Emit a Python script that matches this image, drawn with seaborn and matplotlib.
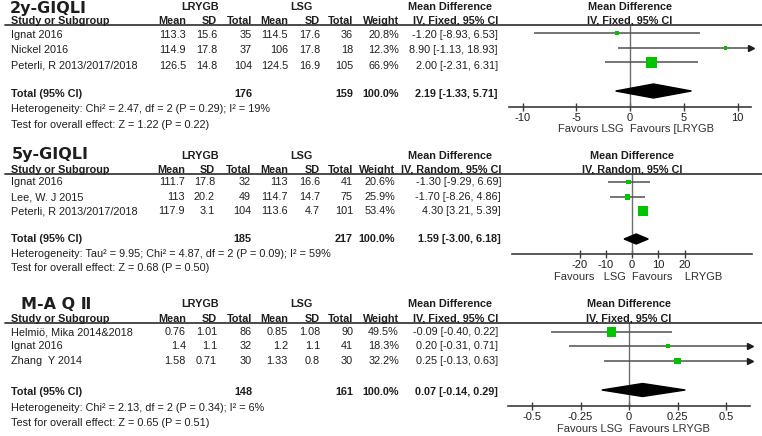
import numpy as np
import matplotlib
matplotlib.use("Agg")
import matplotlib.pyplot as plt
from matplotlib.lines import Line2D
import seaborn as sns

# ---- data -------------------------------------------------------------
titles = ["2y-GIQLI", "5y-GIQLI", "M-A Q \u2161"]
methods = ["IV, Fixed, 95% CI", "IV, Random, 95% CI", "IV, Fixed, 95% CI"]

studies_2y = ["Ignat 2016", "Nickel 2016", "Peterli, R 2013/2017/2018"]
lrygb_mean_2y = [113.3, 114.9, 126.5]
lrygb_sd_2y = [15.6, 17.8, 14.8]
lrygb_n_2y = [35, 37, 104]
lsg_mean_2y = [114.5, 106, 124.5]
lsg_sd_2y = [17.6, 17.8, 16.9]
lsg_n_2y = [36, 18, 105]
weight_2y = [20.8, 12.3, 66.9]
md_2y = [-1.20, 8.90, 2.00]
lo_2y = [-8.93, -1.13, -2.31]
hi_2y = [6.53, 18.93, 6.31]
total_2y = [176, 159, 2.19, -1.33, 5.71]
het_2y = "Heterogeneity: Chi\u00b2 = 2.47, df = 2 (P = 0.29); I\u00b2 = 19%"
test_2y = "Test for overall effect: Z = 1.22 (P = 0.22)"

studies_5y = ["Ignat 2016", "Lee, W. J 2015", "Peterli, R 2013/2017/2018"]
lrygb_mean_5y = [111.7, 113, 117.9]
lrygb_sd_5y = [17.8, 20.2, 3.1]
lrygb_n_5y = [32, 49, 104]
lsg_mean_5y = [113, 114.7, 113.6]
lsg_sd_5y = [16.6, 14.7, 4.7]
lsg_n_5y = [41, 75, 101]
weight_5y = [20.6, 25.9, 53.4]
md_5y = [-1.30, -1.70, 4.30]
lo_5y = [-9.29, -8.26, 3.21]
hi_5y = [6.69, 4.86, 5.39]
total_5y = [185, 217, 1.59, -3.00, 6.18]
het_5y = "Heterogeneity: Tau\u00b2 = 9.95; Chi\u00b2 = 4.87, df = 2 (P = 0.09); I\u00b2 = 59%"
test_5y = "Test for overall effect: Z = 0.68 (P = 0.50)"

studies_maq = ["Helmi\u00f6, Mika 2014&2018", "Ignat 2016", "Zhang  Y 2014"]
lrygb_mean_maq = [0.76, 1.4, 1.58]
lrygb_sd_maq = [1.01, 1.1, 0.71]
lrygb_n_maq = [86, 32, 30]
lsg_mean_maq = [0.85, 1.2, 1.33]
lsg_sd_maq = [1.08, 1.1, 0.8]
lsg_n_maq = [90, 41, 30]
weight_maq = [49.5, 18.3, 32.2]
md_maq = [-0.09, 0.20, 0.25]
lo_maq = [-0.40, -0.31, -0.13]
hi_maq = [0.22, 0.71, 0.63]
total_maq = [148, 161, 0.07, -0.14, 0.29]
het_maq = "Heterogeneity: Chi\u00b2 = 2.13, df = 2 (P = 0.34); I\u00b2 = 6%"
test_maq = "Test for overall effect: Z = 0.65 (P = 0.51)"

ticks = [[-10, -5, 0, 5, 10], [-20, -10, 0, 10, 20], [-0.5, -0.25, 0, 0.25, 0.5]]
tick_labels = [["-10", "-5", "0", "5", "10"], ["-20", "-10", "0", "10", "20"],
               ["-0.5", "-0.25", "0", "0.25", "0.5"]]
favours_left = ["Favours LSG", "Favours   LSG", "Favours LSG"]
favours_right = ["Favours [LRYGB", "Favours    LRYGB", "Favours LRYGB"]

panels = [
    (studies_2y, lrygb_mean_2y, lrygb_sd_2y, lrygb_n_2y, lsg_mean_2y, lsg_sd_2y, lsg_n_2y,
     weight_2y, md_2y, lo_2y, hi_2y, total_2y, het_2y, test_2y),
    (studies_5y, lrygb_mean_5y, lrygb_sd_5y, lrygb_n_5y, lsg_mean_5y, lsg_sd_5y, lsg_n_5y,
     weight_5y, md_5y, lo_5y, hi_5y, total_5y, het_5y, test_5y),
    (studies_maq, lrygb_mean_maq, lrygb_sd_maq, lrygb_n_maq, lsg_mean_maq, lsg_sd_maq, lsg_n_maq,
     weight_maq, md_maq, lo_maq, hi_maq, total_maq, het_maq, test_maq),
]

# ---- layout (pixels) --------------------------------------------------
W, H = 762, 436
layout = [
    dict(title_x=10, title_y=13.5, head1=6.5, head2=20.5, line=25, rows=[34.5, 50, 66], total=94,
         het=109, test=125, frows=[33, 48, 62.5], diamond=91, axis=107, fav=129,
         zero=630, scale=10.75, lim=11.3, dh=7,
         cols=[186, 217, 252, 288, 320, 353, 399, 498]),
    dict(title_x=12, title_y=159, head1=156, head2=169.5, line=174, rows=[182, 197, 211], total=239,
         het=254, test=268, frows=[182, 197, 211], diamond=239, axis=254, fav=277,
         zero=632, scale=2.625, lim=45.7, dh=5,
         cols=[185, 215, 251, 288, 320, 353, 395, 501]),
    dict(title_x=21, title_y=309, head1=304, head2=318.5, line=323, rows=[332, 346, 361], total=392,
         het=408, test=423, frows=[332, 346, 361], diamond=390, axis=406, fav=429,
         zero=629, scale=194, lim=0.625, dh=6.5,
         cols=[186, 217, 252, 288, 320, 353, 399, 498]),
]

sns.set_theme(style="white")
plt.rcParams["font.family"] = ["Liberation Sans", "DejaVu Sans"]

TXT = "#1e1e1e"
GREEN = "#00c400"
LINE = "#505050"
FS = 7.8


def fx(x):
    return x / W


def fy(y):
    return 1 - y / H


def g(v):
    return "%g" % v


fig = plt.figure(figsize=(W / 100, H / 100), dpi=100)

for p, (data, lay) in enumerate(zip(panels, layout)):
    (studies, m1, s1, n1, m2, s2, n2, wt, md, lo, hi, tot, het, test) = data
    cols = lay["cols"]

    # titles and headers
    fig.text(fx(lay["title_x"]), fy(lay["title_y"]), titles[p], fontsize=11.5, fontweight="bold",
             family=["DejaVu Sans", "Noto Sans CJK SC"], color=TXT, va="baseline", ha="left")
    for label, cx in [("LRYGB", 200), ("LSG", 301), ("Mean Difference", 450),
                      ("Mean Difference", lay["zero"])]:
        fig.text(fx(cx), fy(lay["head1"]), label, fontsize=FS, fontweight="bold", color=TXT,
                 ha="center", va="center")
    fig.text(fx(11), fy(lay["head2"]), "Study or Subgroup", fontsize=FS, fontweight="bold",
             color=TXT, ha="left", va="center")
    heads = ["Mean", "SD", "Total", "Mean", "SD", "Total", "Weight", methods[p]]
    for label, cx in zip(heads, cols):
        fig.text(fx(cx), fy(lay["head2"]), label, fontsize=FS, fontweight="bold", color=TXT,
                 ha="right", va="center")
    fig.text(fx(lay["zero"]), fy(lay["head2"]), methods[p], fontsize=FS, fontweight="bold",
             color=TXT, ha="center", va="center")
    fig.add_artist(Line2D([fx(5), fx(W)], [fy(lay["line"])] * 2, color="#3c3c3c", lw=1.3))

    # study rows
    for i, name in enumerate(studies):
        y = fy(lay["rows"][i])
        fig.text(fx(11), y, name, fontsize=FS, color=TXT, ha="left", va="center")
        vals = [g(m1[i]), g(s1[i]), str(n1[i]), g(m2[i]), g(s2[i]), str(n2[i]),
                "%.1f%%" % wt[i], "%.2f [%.2f, %.2f]" % (md[i], lo[i], hi[i])]
        for v, cx in zip(vals, cols):
            fig.text(fx(cx), y, v, fontsize=FS, color=TXT, ha="right", va="center")

    # total row
    y = fy(lay["total"])
    fig.text(fx(11), y, "Total (95% CI)", fontsize=FS, fontweight="bold", color=TXT,
             ha="left", va="center")
    tvals = [(str(tot[0]), cols[2]), (str(tot[1]), cols[5]), ("100.0%", cols[6]),
             ("%.2f [%.2f, %.2f]" % (tot[2], tot[3], tot[4]), cols[7])]
    for v, cx in tvals:
        fig.text(fx(cx), y, v, fontsize=FS, fontweight="bold", color=TXT, ha="right", va="center")
    fig.text(fx(11), fy(lay["het"]), het, fontsize=FS, color=TXT, ha="left", va="center")
    fig.text(fx(11), fy(lay["test"]), test, fontsize=FS, color=TXT, ha="left", va="center")

    # forest plot
    lim = lay["lim"]
    x0 = lay["zero"] - lim * lay["scale"]
    x1 = lay["zero"] + lim * lay["scale"]
    ax = fig.add_axes([fx(x0), fy(lay["axis"]), (x1 - x0) / W, (lay["axis"] - lay["line"]) / H])
    ax.set_xlim(-lim, lim)
    ax.set_ylim(lay["axis"], lay["line"])
    ax.patch.set_alpha(0)
    for s in ["top", "left", "right"]:
        ax.spines[s].set_visible(False)
    ax.spines["bottom"].set_color("#3c3c3c")
    ax.spines["bottom"].set_linewidth(1.2)
    ax.set_yticks([])
    ax.set_xticks(ticks[p])
    ax.set_xticklabels(tick_labels[p])
    ax.tick_params(axis="x", direction="inout", length=6, width=1, color="#3c3c3c",
                   labelsize=8, labelcolor=TXT, pad=1, bottom=True)
    ax.axvline(0, color="#6e6e6e", lw=1, zorder=1)

    fr = lay["frows"]
    lo_c = np.clip(lo, -lim, lim)
    hi_c = np.clip(hi, -lim, lim)
    ax.hlines(fr, lo_c, hi_c, color=LINE, lw=1.1, zorder=2)
    for yy, h in zip(fr, hi):
        if h >= lim:
            ax.plot(lim, yy, marker=">", ms=4, color="#1e1e1e", clip_on=False, zorder=3)
    side_px = 1.5 + 0.155 * np.array(wt)
    sns.scatterplot(x=md, y=fr, ax=ax, marker="s", s=(side_px * 0.72) ** 2, color=GREEN,
                    edgecolor="none", linewidth=0, zorder=4, legend=False, clip_on=False)
    yd, dh = lay["diamond"], lay["dh"]
    ax.fill([tot[3], tot[2], tot[4], tot[2]], [yd, yd - dh, yd, yd + dh], color="black",
            zorder=5, clip_on=False)
    ax.set_xlabel("")
    ax.set_ylabel("")

    fig.text(fx(lay["zero"] - 6), fy(lay["fav"]), favours_left[p], fontsize=8,
             color="#303030", ha="right", va="center")
    fig.text(fx(lay["zero"]), fy(lay["fav"]), favours_right[p], fontsize=8,
             color="#303030", ha="left", va="center")

fig.savefig("out.png", dpi=100, facecolor="white")
